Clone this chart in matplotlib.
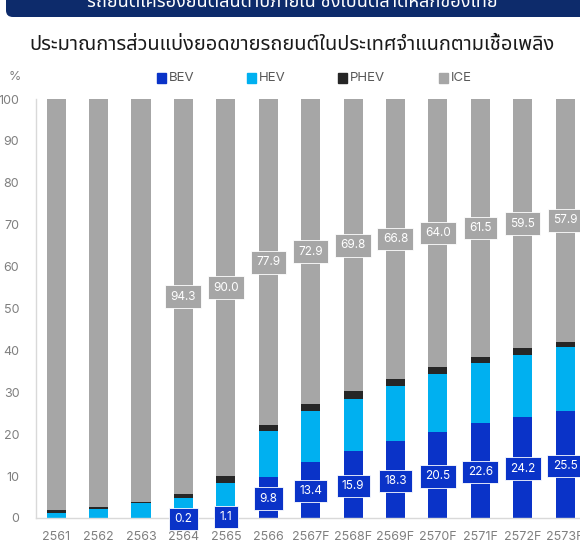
import matplotlib
matplotlib.use("Agg")
import matplotlib.pyplot as plt
from matplotlib import font_manager
from matplotlib.ft2font import FT2Font
from matplotlib.patches import Rectangle, FancyBboxPatch
import numpy as np

# ---------------- data ----------------
years = ["2561", "2562", "2563", "2564", "2565", "2566", "2567F", "2568F",
         "2569F", "2570F", "2571F", "2572F", "2573F"]
bev = [0.0, 0.0, 0.0, 0.2, 1.1, 9.8, 13.4, 15.9, 18.3, 20.5, 22.6, 24.2, 25.5]
hev = [1.3, 2.1, 3.5, 4.5, 7.3, 11.0, 12.1, 12.5, 13.3, 13.9, 14.3, 14.7, 15.3]
phev = [0.6, 0.5, 0.3, 1.0, 1.6, 1.3, 1.6, 1.8, 1.6, 1.6, 1.6, 1.6, 1.3]
ice = [98.1, 97.4, 96.2, 94.3, 90.0, 77.9, 72.9, 69.8, 66.8, 64.0, 61.5, 59.5, 57.9]
ice_labels = [None, None, None, "94.3", "90.0", "77.9", "72.9", "69.8", "66.8",
              "64.0", "61.5", "59.5", "57.9"]
bev_labels = [None, None, None, "0.2", "1.1", "9.8", "13.4", "15.9", "18.3",
              "20.5", "22.6", "24.2", "25.5"]
series_names = ["BEV", "HEV", "PHEV", "ICE"]
yticks = list(range(0, 101, 10))
title = "ประมาณการส่วนแบ่งยอดขายรถยนต์ในประเทศจำแนกตามเชื้อเพลิง"
banner = "รถยนต์เครื่องยนต์สันดาปภายใน ซึ่งเป็นตลาดหลักของไทย"

C_BEV = "#0a33c8"
C_HEV = "#00b0f0"
C_PHEV = "#262626"
C_ICE = "#a6a6a6"
colors = [C_BEV, C_HEV, C_PHEV, C_ICE]

# ---------------- fonts: find a Thai-capable family ----------------
thai_family = None
pref = []
for f in font_manager.fontManager.ttflist:
    try:
        ft = FT2Font(f.fname)
        cm = ft.get_charmap()
        if 0x0E01 in cm and 0x0E4C in cm:
            pref.append(f.name)
    except Exception:
        pass
for cand in ["Noto Sans Thai", "Noto Sans Thai UI", "Noto Sans Thai Looped", "Sarabun", "Kanit", "Prompt"]:
    if cand in pref:
        thai_family = cand
        break
if thai_family is None and pref:
    thai_family = pref[0]
fams = ([thai_family] if thai_family else []) + ["Inter", "DejaVu Sans"]
plt.rcParams["font.family"] = ["Inter", "DejaVu Sans"]

W, H = 580, 547
fig = plt.figure(figsize=(W / 100, H / 100), dpi=100)
fig.patch.set_facecolor("white")

# axes placement in pixels
x_left = 36
y_zero = 518
y_hund = 99
ax = fig.add_axes([x_left / W, (H - y_zero) / H, 1 - x_left / W, (y_zero - y_hund) / H])

x = np.arange(len(years))
width = 0.45
bottoms = np.zeros(len(years))
for vals, col in zip([bev, hev, phev, ice], colors):
    ax.bar(x, vals, width, bottom=bottoms, color=col, edgecolor="none", zorder=2)
    bottoms = bottoms + np.array(vals)

ax.set_xlim(-0.476, 12.35)
ax.set_ylim(0, 100)

# value labels
bev_arr = np.array(bev)
nonice = np.array(bev) + np.array(hev) + np.array(phev)
for i in range(len(years)):
    if bev_labels[i]:
        ax.text(x[i], bev_arr[i] / 2 - 0.3, bev_labels[i], ha="center", va="center",
                color="white", fontsize=8.5, zorder=5, clip_on=False,
                bbox=dict(boxstyle="square,pad=0.45", fc=C_BEV, ec="white", lw=0.6))
    if ice_labels[i]:
        ax.text(x[i], nonice[i] + ice[i] / 2, ice_labels[i], ha="center", va="center",
                color="white", fontsize=8.5, zorder=5, clip_on=False,
                bbox=dict(boxstyle="square,pad=0.45", fc=C_ICE, ec="white", lw=0.6))

# axes styling
for s in ["top", "right"]:
    ax.spines[s].set_visible(False)
ax.spines["left"].set_color("#d9d9d9")
ax.spines["bottom"].set_color("#d9d9d9")
ax.spines["left"].set_linewidth(1.0)
ax.spines["bottom"].set_linewidth(1.0)
ax.set_yticks(yticks)
ax.set_yticklabels([str(v) for v in yticks])
ax.set_xticks(x)
ax.set_xticklabels(years)
ax.tick_params(axis="both", length=0, colors="#7f7f7f", labelsize=9)
ax.tick_params(axis="y", pad=12)
ax.tick_params(axis="x", pad=9)
for lbl in ax.get_yticklabels():
    lbl.set_horizontalalignment("right")

# percent sign
fig.text(15 / W, 1 - 77 / H, "%", ha="center", va="center", color="#7f7f7f", fontsize=9)

# legend (manual)
leg_x = [157, 247, 338, 439]
leg_y = 78
for lx, name, col in zip(leg_x, series_names, colors):
    fig.patches.append(Rectangle((lx / W, 1 - (leg_y + 5) / H), 9 / W, 10 / H,
                                 transform=fig.transFigure, color=col, figure=fig))
    fig.text((lx + 12) / W, 1 - leg_y / H, name, ha="left", va="center",
             color="#595959", fontsize=9.5)

# banner
fig.patches.append(FancyBboxPatch((6 / W, 1 - 17 / H), 600 / W, 40 / H,
                                  boxstyle="round,pad=0,rounding_size=0.012",
                                  transform=fig.transFigure, fc="#0d2b6b", ec="none",
                                  figure=fig))
fig.text(292 / W, 1 - 2 / H, banner, ha="center", va="center", color="white",
         fontsize=13, family=fams)

# title
fig.text(292 / W, 1 - 45 / H, title, ha="center", va="center", color="#1a1a1a",
         fontsize=14.4, family=fams)

fig.savefig("out.png", dpi=100)
